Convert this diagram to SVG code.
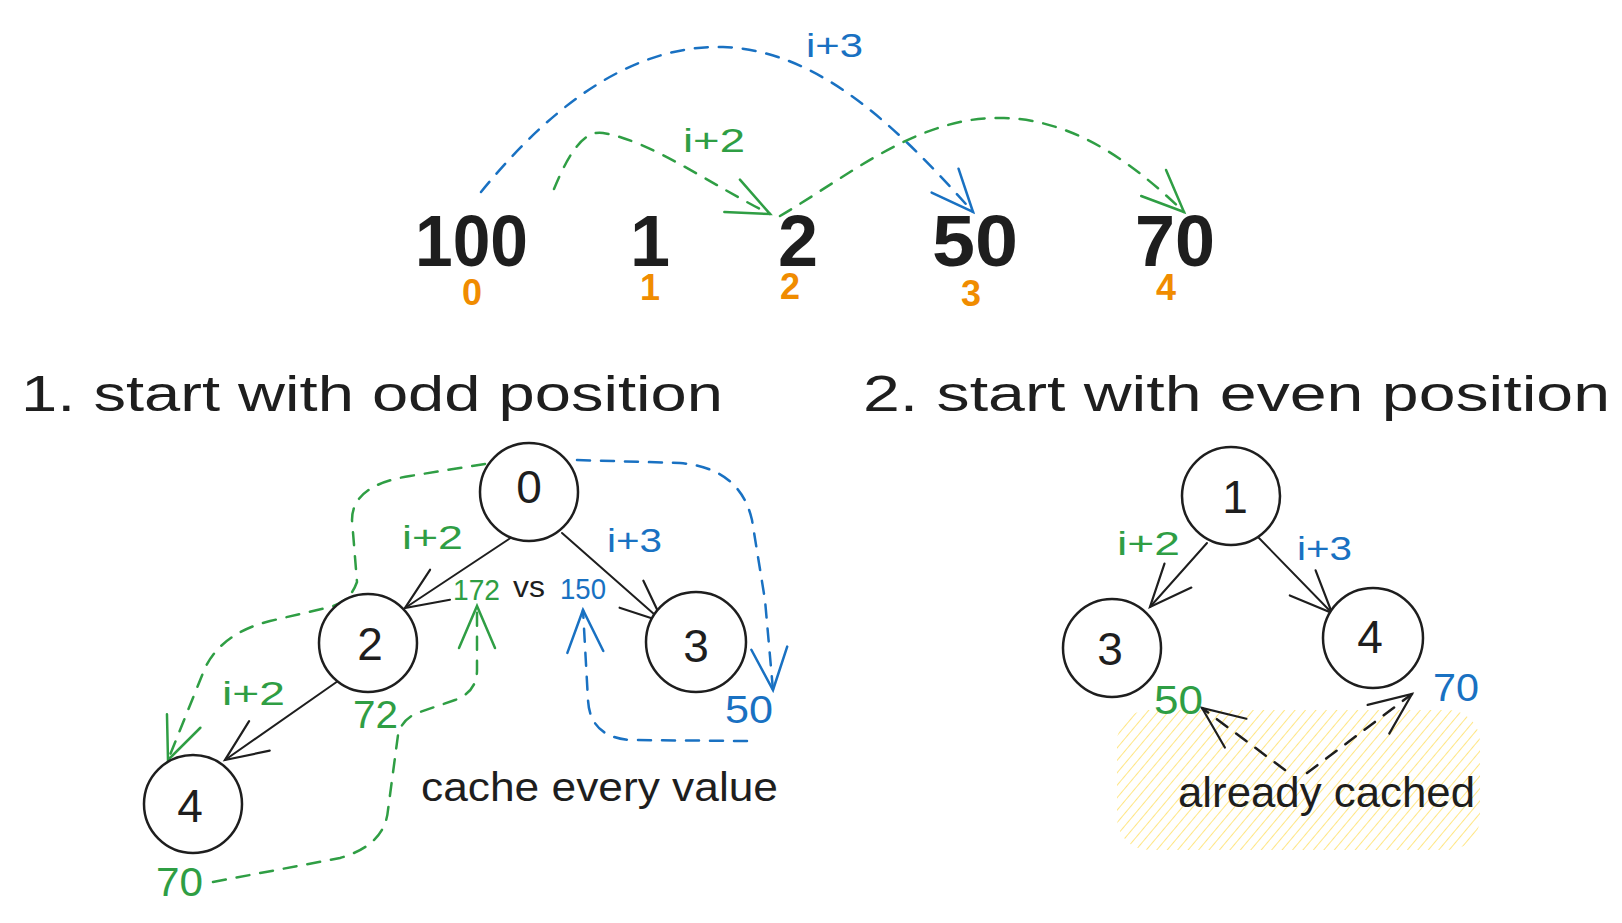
<svg xmlns="http://www.w3.org/2000/svg" width="1622" height="923" viewBox="0 0 1622 923">
<style>
text{font-family:"Liberation Sans","DejaVu Sans",sans-serif;}
.k{fill:#1e1e1e;}
.g{fill:#2f9e44;}
.b{fill:#1971c2;}
.o{fill:#f08c00;}
.big{font-size:72px;font-weight:bold;}
.idx{font-size:36px;font-weight:bold;}
.title{font-size:50px;fill:#1e1e1e;}
.nd{font-size:46px;fill:#1e1e1e;text-anchor:middle;}
.lbl{font-size:34px;}
.node{fill:#ffffff;stroke:#1e1e1e;stroke-width:2.5;}
.ln{fill:none;stroke:#1e1e1e;stroke-width:2;stroke-linecap:round;}
.dg{fill:none;stroke:#2f9e44;stroke-width:2.5;stroke-dasharray:13 11;stroke-linecap:round;}
.db{fill:none;stroke:#1971c2;stroke-width:2.5;stroke-dasharray:13 11;stroke-linecap:round;}
.dk{fill:none;stroke:#1e1e1e;stroke-width:2.5;stroke-dasharray:13 11;stroke-linecap:round;}
</style>
<defs>
<marker id="ak" viewBox="-50 -25 60 50" refX="0" refY="0" markerWidth="60" markerHeight="50" markerUnits="userSpaceOnUse" orient="auto" overflow="visible">
<path d="M-42,-18 L0,0 L-42,18" fill="none" stroke="#1e1e1e" stroke-width="2.2" stroke-linecap="round"/>
</marker>
<marker id="ag" viewBox="-50 -25 60 50" refX="0" refY="0" markerWidth="60" markerHeight="50" markerUnits="userSpaceOnUse" orient="auto" overflow="visible">
<path d="M-42,-18 L0,0 L-42,18" fill="none" stroke="#2f9e44" stroke-width="2.5" stroke-linecap="round"/>
</marker>
<marker id="ab" viewBox="-50 -25 60 50" refX="0" refY="0" markerWidth="60" markerHeight="50" markerUnits="userSpaceOnUse" orient="auto" overflow="visible">
<path d="M-42,-18 L0,0 L-42,18" fill="none" stroke="#1971c2" stroke-width="2.5" stroke-linecap="round"/>
</marker>
<pattern id="hatch" width="8" height="8" patternUnits="userSpaceOnUse" patternTransform="rotate(40)">
<line x1="0" y1="0" x2="0" y2="8" stroke="#ffe066" stroke-width="1.6"/>
</pattern>
</defs>
<rect width="1622" height="923" fill="#ffffff"/>

<g id="cached-area">
<rect x="1117" y="710" width="363" height="140" rx="32" fill="url(#hatch)"/>
</g>

<g id="array">
<text class="big k" x="415" y="266" textLength="113" lengthAdjust="spacingAndGlyphs">100</text>
<text class="big k" x="650" y="266" text-anchor="middle">1</text>
<text class="big k" x="798" y="266" text-anchor="middle">2</text>
<text class="big k" x="932" y="266" textLength="86" lengthAdjust="spacingAndGlyphs">50</text>
<text class="big k" x="1135" y="266" textLength="80" lengthAdjust="spacingAndGlyphs">70</text>
<text class="idx o" x="472" y="305" text-anchor="middle">0</text>
<text class="idx o" x="650" y="300" text-anchor="middle">1</text>
<text class="idx o" x="790" y="299" text-anchor="middle">2</text>
<text class="idx o" x="971" y="306" text-anchor="middle">3</text>
<text class="idx o" x="1166" y="300" text-anchor="middle">4</text>
<text class="lbl b" x="806" y="57" textLength="57" lengthAdjust="spacingAndGlyphs">i+3</text>
<text class="lbl g" x="683" y="152" textLength="62" lengthAdjust="spacingAndGlyphs">i+2</text>
</g>

<g id="titles">
<text class="title" x="21" y="411" textLength="702" lengthAdjust="spacingAndGlyphs">1. start with odd position</text>
<text class="title" x="863" y="411" textLength="747" lengthAdjust="spacingAndGlyphs">2. start with even position</text>
</g>

<g id="connectors">
<path class="db" d="M481,192 C560,95 640,45 723,47 C820,50 900,130 973,212" marker-end="url(#ab)"/>
<path class="dg" d="M554,189 C570,150 585,130 603,133 C650,140 720,190 770,214" marker-end="url(#ag)"/>
<path class="dg" d="M780,216 C850,175 920,115 1004,118 C1080,120 1140,170 1184,212" marker-end="url(#ag)"/>
<path class="ln" d="M512,537 L405,608" marker-end="url(#ak)"/>
<path class="ln" d="M562,533 L663,622" marker-end="url(#ak)"/>
<path class="ln" d="M338,681 L225,760" marker-end="url(#ak)"/>
<path class="dg" d="M485,464 L410,476 Q352,485 352,520 L357,582 Q350,602 330,607 L270,621 Q222,633 205,668 L168,760" marker-end="url(#ag)"/>
<path class="dg" d="M213,882 L340,858 Q385,845 388,810 L398,735 Q402,718 420,712 L455,700 Q477,692 477,670 L477,606" marker-end="url(#ag)"/>
<path class="db" d="M577,460 L680,463 Q740,468 752,520 L765,600 L773,690" marker-end="url(#ab)"/>
<path class="db" d="M747,741 L630,740 Q590,737 588,700 L583,610" marker-end="url(#ab)"/>
<path class="ln" d="M1207,543 L1150,607" marker-end="url(#ak)"/>
<path class="ln" d="M1258,537 L1332,613" marker-end="url(#ak)"/>
<path class="dk" d="M1285,770 L1202,708" marker-end="url(#ak)"/>
<path class="dk" d="M1307,773 L1412,694" marker-end="url(#ak)"/>
</g>

<g id="node-0">
<circle class="node" cx="529" cy="492" r="49"/>
<text class="nd" x="529" y="503">0</text>
</g>
<g id="node-2">
<circle class="node" cx="368" cy="643" r="49"/>
<text class="nd" x="370" y="660">2</text>
</g>
<g id="node-3">
<circle class="node" cx="696" cy="642" r="50"/>
<text class="nd" x="696" y="662">3</text>
</g>
<g id="node-4">
<circle class="node" cx="193" cy="804" r="49"/>
<text class="nd" x="190" y="822">4</text>
</g>
<g id="node-1b">
<circle class="node" cx="1231" cy="496" r="49"/>
<text class="nd" x="1235" y="513">1</text>
</g>
<g id="node-3b">
<circle class="node" cx="1112" cy="648" r="49"/>
<text class="nd" x="1110" y="665">3</text>
</g>
<g id="node-4b">
<circle class="node" cx="1373" cy="638" r="50"/>
<text class="nd" x="1370" y="653">4</text>
</g>

<g id="labels">
<text class="lbl g" x="402" y="549" textLength="61" lengthAdjust="spacingAndGlyphs">i+2</text>
<text class="lbl b" x="607" y="552" textLength="55" lengthAdjust="spacingAndGlyphs">i+3</text>
<text class="g" x="453" y="600" font-size="30" textLength="47" lengthAdjust="spacingAndGlyphs">172</text>
<text class="k" x="513" y="597" font-size="30" textLength="32" lengthAdjust="spacingAndGlyphs">vs</text>
<text class="b" x="560" y="599" font-size="30" textLength="46" lengthAdjust="spacingAndGlyphs">150</text>
<text class="g" x="353" y="728" font-size="38" textLength="45" lengthAdjust="spacingAndGlyphs">72</text>
<text class="lbl g" x="222" y="705" textLength="63" lengthAdjust="spacingAndGlyphs">i+2</text>
<text class="b" x="725" y="723" font-size="38" textLength="48" lengthAdjust="spacingAndGlyphs">50</text>
<text class="g" x="156" y="896" font-size="40" textLength="47" lengthAdjust="spacingAndGlyphs">70</text>
<text class="k" x="421" y="801" font-size="40" textLength="357" lengthAdjust="spacingAndGlyphs">cache every value</text>
<text class="lbl g" x="1117" y="555" textLength="63" lengthAdjust="spacingAndGlyphs">i+2</text>
<text class="lbl b" x="1297" y="560" textLength="55" lengthAdjust="spacingAndGlyphs">i+3</text>
<text class="g" x="1154" y="714" font-size="40" textLength="49" lengthAdjust="spacingAndGlyphs">50</text>
<text class="b" x="1433" y="701" font-size="38" textLength="46" lengthAdjust="spacingAndGlyphs">70</text>
<text class="k" x="1178" y="807" font-size="42" textLength="297" lengthAdjust="spacingAndGlyphs">already cached</text>
</g>
</svg>
